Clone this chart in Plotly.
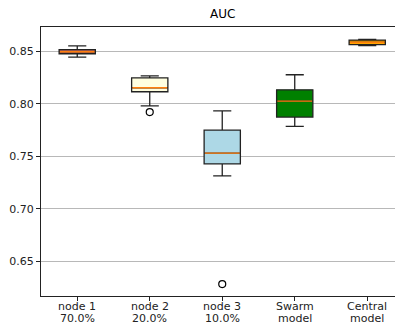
import plotly.graph_objects as go

# AUC distribution per training setup
labels = ["node 1<br>70.0%", "node 2<br>20.0%", "node 3<br>10.0%", "Swarm<br>model", "Central<br>model"]
positions = [1, 2, 3, 4, 5]
lower_whisker = [0.8446, 0.7982, 0.7314, 0.7785, 0.8555]
q1 = [0.8478, 0.8116, 0.7428, 0.7874, 0.8565]
median = [0.8497, 0.8154, 0.7530, 0.8027, 0.8587]
q3 = [0.8516, 0.8249, 0.7750, 0.8134, 0.8608]
upper_whisker = [0.8554, 0.8268, 0.7934, 0.8278, 0.8614]
fill_colors = ["salmon", "lightyellow", "lightblue", "green", "orange"]

# outlying runs
outlier_x = [2, 3]
outlier_y = [0.7922, 0.6283]

box_width = 0.5
median_color = "#ff7f0e"

fig = go.Figure()
for i, pos in enumerate(positions):
    fig.add_trace(go.Box(
        x=[pos], q1=[q1[i]], median=[median[i]], q3=[q3[i]],
        lowerfence=[lower_whisker[i]], upperfence=[upper_whisker[i]],
        width=box_width, whiskerwidth=0.5,
        fillcolor=fill_colors[i],
        line=dict(color="#222222", width=1.3),
        boxpoints=False, hoverinfo="skip", showlegend=False,
    ))
    fig.add_trace(go.Scatter(
        x=[pos - box_width / 2 + 0.01, pos + box_width / 2 - 0.01],
        y=[median[i], median[i]], mode="lines",
        line=dict(color=median_color, width=1.3),
        hoverinfo="skip", showlegend=False,
    ))

fig.add_trace(go.Scatter(
    x=outlier_x, y=outlier_y, mode="markers",
    marker=dict(symbol="circle-open", size=7, color="black", line=dict(width=1.2)),
    hoverinfo="skip", showlegend=False,
))

fig.add_annotation(
    x=3, xref="x", y=1, yref="paper", yshift=4, yanchor="bottom",
    text="AUC", showarrow=False, font=dict(size=12, color="black"),
)

# category labels under the tick marks, one line at a time for tight spacing
label_font = dict(family="DejaVu Sans", size=11, color="#222222")
for pos, lab in zip(positions, labels):
    for k, line in enumerate(lab.split("<br>")):
        fig.add_annotation(
            x=pos, xref="x", y=0, yref="paper", yanchor="middle",
            yshift=-10 - 12.5 * k, text=line, showarrow=False,
            borderpad=0, font=label_font,
        )

font = dict(family="DejaVu Sans", size=11, color="#222222")
fig.update_layout(
    width=395, height=325,
    margin=dict(l=41, r=0, t=27, b=29),
    paper_bgcolor="white", plot_bgcolor="white",
    font=font, boxmode="overlay",
)
fig.update_xaxes(
    range=[0.5, 5.383], tickvals=positions, showticklabels=False,
    showgrid=False, zeroline=False, automargin=False,
    showline=True, linecolor="#222222", linewidth=1, mirror=True,
    ticks="outside", ticklen=4, tickcolor="#222222",
)
fig.update_yaxes(
    range=[0.6169, 0.8733], tickvals=[0.65, 0.70, 0.75, 0.80, 0.85],
    ticktext=["0.65", "0.70", "0.75", "0.80", "0.85"],
    showgrid=True, gridcolor="#b8b8b8", gridwidth=1, zeroline=False, automargin=False,
    showline=True, linecolor="#222222", linewidth=1,
    ticks="outside", ticklen=4, tickcolor="#222222",
)

fig.write_html("out.html")
